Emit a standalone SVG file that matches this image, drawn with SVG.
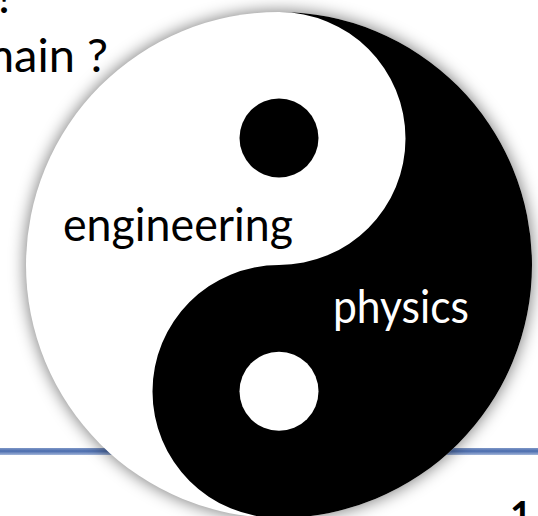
<svg xmlns="http://www.w3.org/2000/svg" width="538" height="516" viewBox="0 0 538 516">
<defs>
<linearGradient id="bar" x1="0" y1="0" x2="0" y2="1"><stop offset="0" stop-color="#7f97c6"/><stop offset="0.45" stop-color="#4a6cae"/><stop offset="1" stop-color="#a3b6da"/></linearGradient>
<filter id="sh" x="-20%" y="-20%" width="140%" height="140%"><feGaussianBlur stdDeviation="8"/></filter>
</defs>
<style>text{font-family:Lato,"Open Sans",sans-serif;fill:#000;font-size:47px}</style>
<rect width="538" height="516" fill="#fff"/>
<rect id="bar-line" x="0" y="448" width="538" height="7" fill="url(#bar)"/>
<text x="4" y="13" text-anchor="middle">!</text>
<text x="108" y="71.5" text-anchor="end">main ?</text>
<text x="510" y="529" style="font-size:38px;font-weight:700">1</text>
<g id="yinyang">
<circle cx="279" cy="265" r="254" fill="#000" fill-opacity="0.5" filter="url(#sh)"/>
<circle cx="279" cy="265" r="253" fill="#fff"/>
<path d="M279 12A253 253 0 0 1 279 518A126.5 126.5 0 0 1 279 265A126.5 126.5 0 0 0 279 12Z" fill="#000"/>
<circle cx="279" cy="138" r="39.5" fill="#000"/>
<circle cx="279" cy="391.3" r="39.5" fill="#fff"/>
</g>
<g id="engineering"><text x="63" y="241" textLength="230" lengthAdjust="spacingAndGlyphs">engineering</text></g>
<g id="physics"><text x="333" y="323" textLength="136" lengthAdjust="spacingAndGlyphs" style="fill:#fff">physics</text></g>
</svg>
